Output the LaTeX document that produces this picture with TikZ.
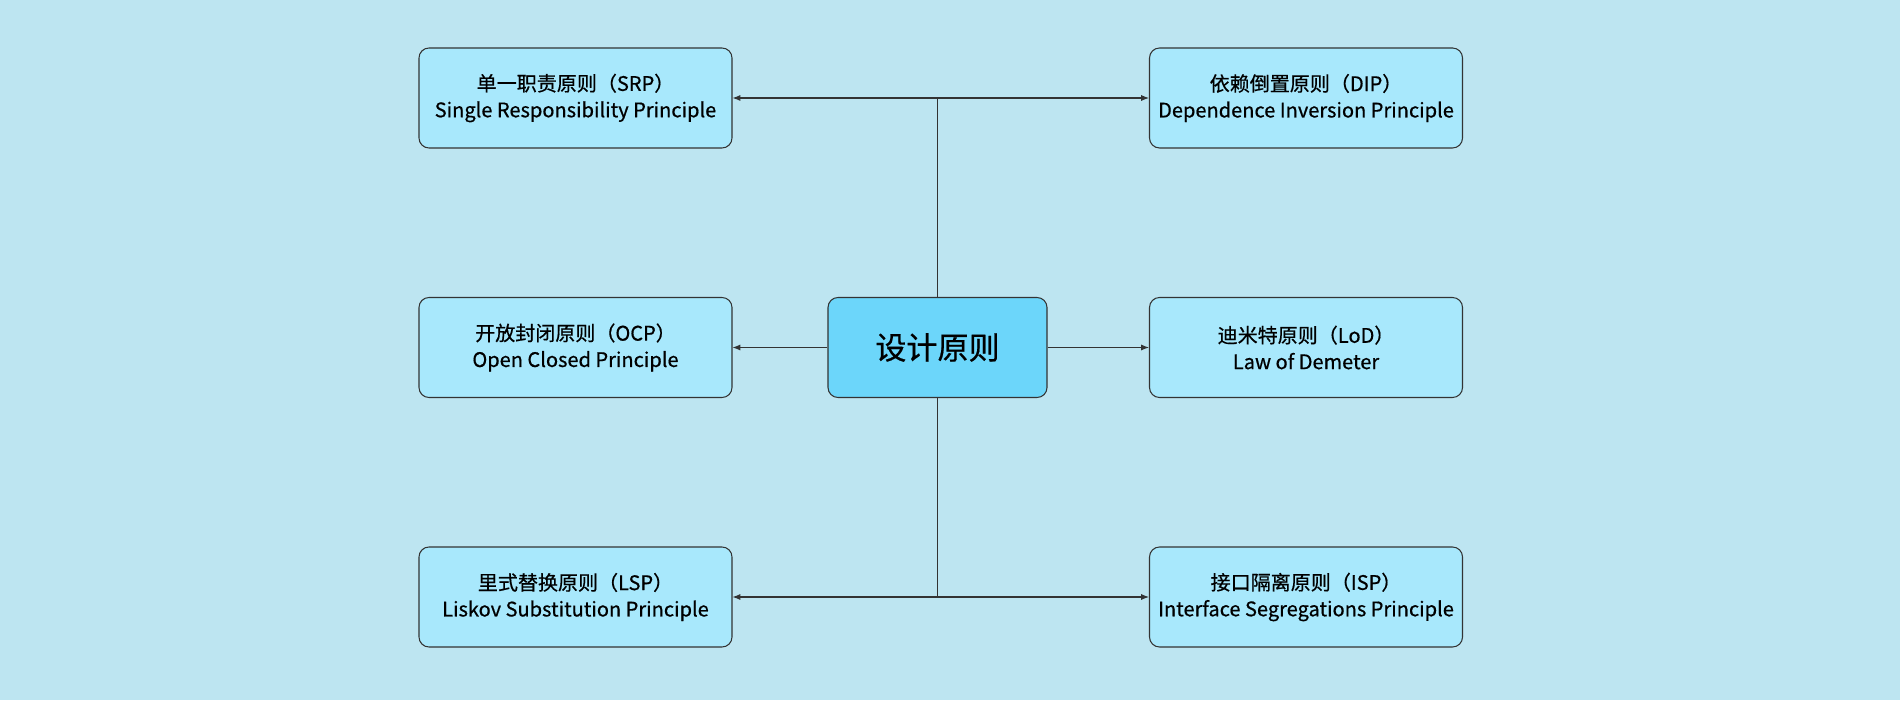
\documentclass[tikz,border=0pt]{standalone}
\usepackage{fontspec}
\setmainfont{Noto Sans CJK SC}[FakeBold=0.6]
\usetikzlibrary{arrows.meta}
\definecolor{sfondo}{HTML}{BDE5F1}
\definecolor{scatola}{HTML}{A8E8FC}
\definecolor{centro}{HTML}{6CD6FA}
\definecolor{bordo}{HTML}{333333}
\tikzset{
  principio/.style={draw=bordo, fill=scatola, rounded corners=0.2cm, line width=0.6pt,
    minimum width=6.26cm, minimum height=2cm, align=center,
    font=\fontsize{11.4}{15}\selectfont},
  freccia/.style={draw=bordo, line width=0.6pt, -{Latex[length=4.5pt,width=3.5pt]}}
}
\begin{document}
\begin{tikzpicture}
    % Sfondo
    \fill[sfondo] (0,0) rectangle (38,14);

    % Nodo centrale
    \node[principio, fill=centro, minimum width=4.38cm, font=\fontsize{17.7}{20}\selectfont]
        (centro) at (18.75,7.05) {设计原则};

    % Principi a sinistra
    \node[principio] (srp) at (11.51,12.04) {单一职责原则（SRP）\\Single Responsibility Principle};
    \node[principio] (ocp) at (11.51,7.05) {开放封闭原则（OCP）\\Open Closed Principle};
    \node[principio] (lsp) at (11.51,2.06) {里式替换原则（LSP）\\Liskov Substitution Principle};

    % Principi a destra
    \node[principio] (dip) at (26.12,12.04) {依赖倒置原则（DIP）\\Dependence Inversion Principle};
    \node[principio] (lod) at (26.12,7.05) {迪米特原则（LoD）\\Law of Demeter};
    \node[principio] (isp) at (26.12,2.06) {接口隔离原则（ISP）\\Interface Segregations Principle};

    % Giunzioni
    \coordinate (su) at (centro |- srp);
    \coordinate (giu) at (centro |- lsp);

    % Linee verticali
    \draw[bordo, line width=0.6pt] (centro.north) -- (su);
    \draw[bordo, line width=0.6pt] (centro.south) -- (giu);

    % Frecce
    \draw[freccia] (su) -- (srp.east);
    \draw[freccia] (su) -- (dip.west);
    \draw[freccia] (centro.west) -- (ocp.east);
    \draw[freccia] (centro.east) -- (lod.west);
    \draw[freccia] (giu) -- (lsp.east);
    \draw[freccia] (giu) -- (isp.west);
\end{tikzpicture}
\end{document}
